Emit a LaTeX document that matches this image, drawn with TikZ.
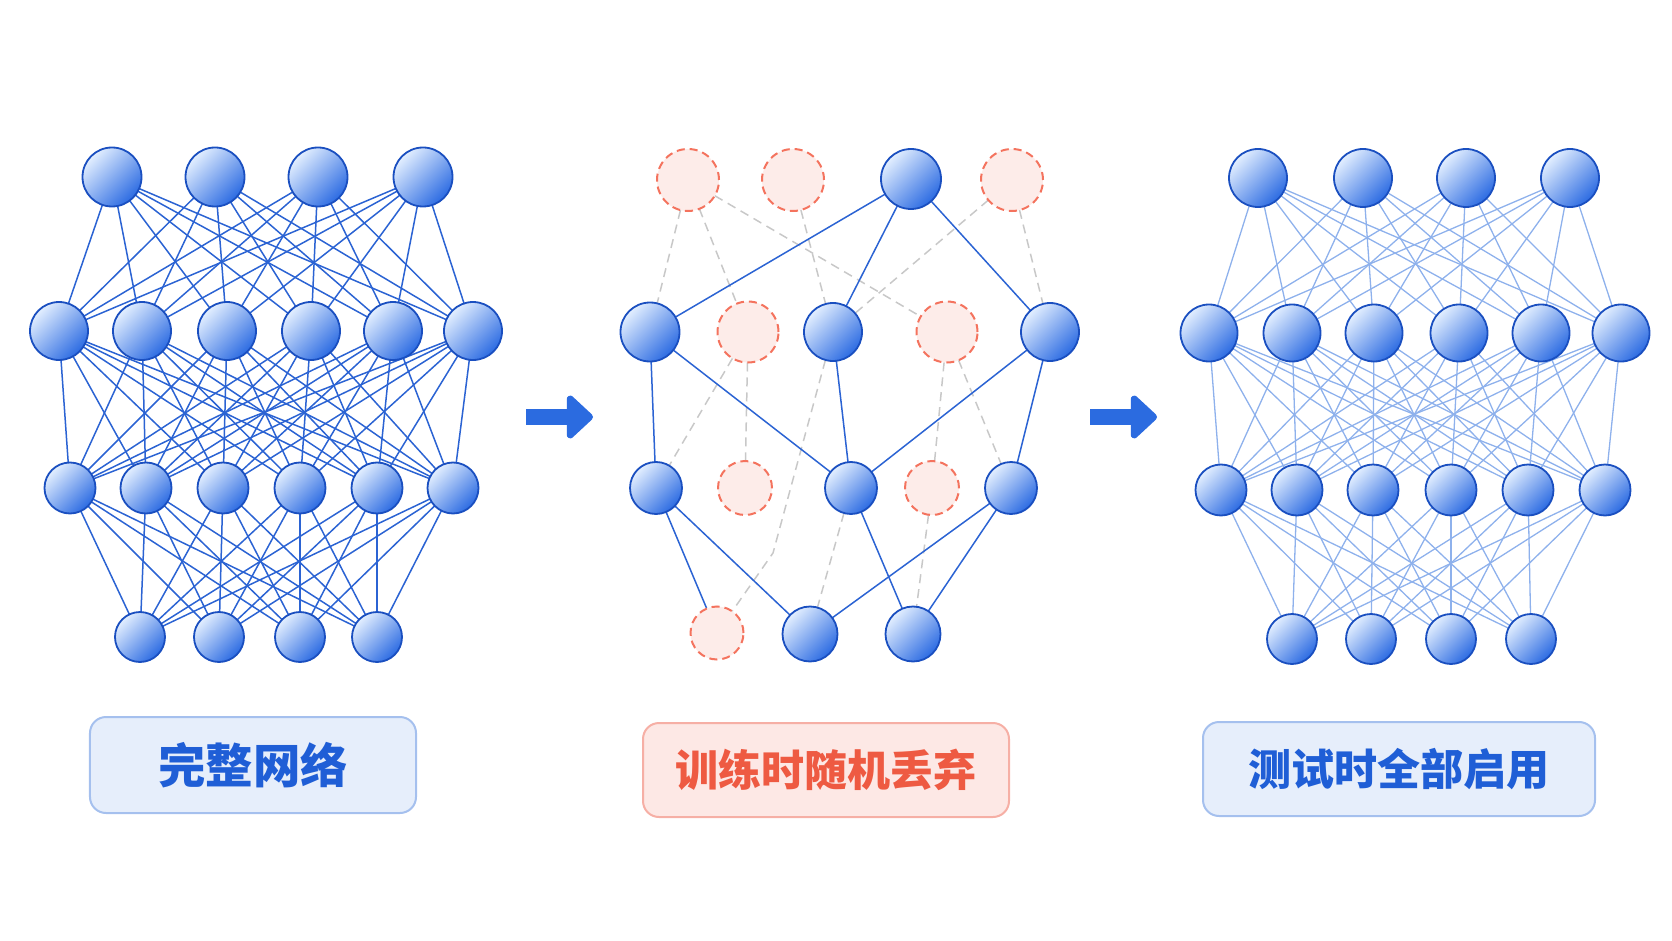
\documentclass[tikz,border=0pt]{standalone}
\usepackage{fontspec}
\newfontfamily\cjk{Noto Sans CJK SC}
\usetikzlibrary{arrows.meta,backgrounds}

\definecolor{nodeblue}{HTML}{2C6BE2}
\definecolor{nodelight}{HTML}{E3EFFF}
\definecolor{nodeedge}{HTML}{1A4FC0}
\definecolor{linkblue}{HTML}{2B63D3}
\definecolor{linklight}{HTML}{8EB1EC}
\definecolor{dropred}{HTML}{F4735E}
\definecolor{dropfill}{HTML}{FDECE9}
\definecolor{dropgray}{HTML}{C8C8C8}
\definecolor{boxblue}{HTML}{E6EEFB}
\definecolor{boxblueline}{HTML}{A5C0EE}
\definecolor{textblue}{HTML}{1F5ED6}
\definecolor{boxred}{HTML}{FDE8E5}
\definecolor{boxredline}{HTML}{F6AFA5}
\definecolor{textred}{HTML}{EE5A42}
\definecolor{arrowblue}{HTML}{2B6BE0}

\tikzset{
  neuron/.style={circle, draw=nodeedge, line width=0.36mm, inner sep=0, outer sep=0,
    top color=nodelight, bottom color=nodeblue, shading angle=45},
  dropped/.style={circle, draw=dropred, fill=dropfill, line width=0.4mm,
    dash pattern=on 1.6mm off 1mm, inner sep=0, outer sep=0},
  link/.style={linkblue, line width=0.3mm},
  faintlink/.style={linklight, line width=0.26mm},
  droplink/.style={dropgray, line width=0.3mm, dash pattern=on 1.8mm off 1.2mm},
  labelbox/.style={rounded corners=3.2mm, line width=0.4mm, inner sep=0,
    font=\cjk\bfseries\fontsize{24.5}{29}\selectfont},
  blockarrow/.style={arrowblue, line width=3.2mm, -{Triangle[width=10mm, length=5.6mm, round]}},
}

\begin{document}
\begin{tikzpicture}[x=0.2mm, y=-0.2mm]
    \useasboundingbox (0,0) rectangle (1672,941);

    % full network
    \foreach \x [count=\i] in {112,215,318,423}
        \node[neuron, minimum size=11.8mm] (f1\i) at (\x,177) {};
    \foreach \x [count=\i] in {59,142,227,311,393,473}
        \node[neuron, minimum size=11.6mm] (f2\i) at (\x,331) {};
    \foreach \x [count=\i] in {70,146,223,300,377,453}
        \node[neuron, minimum size=10.2mm] (f3\i) at (\x,488) {};
    \foreach \x [count=\i] in {140,219,300,377}
        \node[neuron, minimum size=10mm] (f4\i) at (\x,637) {};

    % training with dropout
    \node[dropped, minimum size=12.4mm] (d11) at (688,180) {};
    \node[dropped, minimum size=12.4mm] (d12) at (793,180) {};
    \node[neuron, minimum size=12mm] (d13) at (911,179) {};
    \node[dropped, minimum size=12.4mm] (d14) at (1012,180) {};
    \node[neuron, minimum size=11.8mm] (d21) at (650,332) {};
    \node[dropped, minimum size=12.2mm] (d22) at (748,332) {};
    \node[neuron, minimum size=11.6mm] (d23) at (833,332) {};
    \node[dropped, minimum size=12.2mm] (d24) at (947,332) {};
    \node[neuron, minimum size=11.6mm] (d25) at (1050,332) {};
    \node[neuron, minimum size=10.4mm] (d31) at (656,488) {};
    \node[dropped, minimum size=10.8mm] (d32) at (745,488) {};
    \node[neuron, minimum size=10.4mm] (d33) at (851,488) {};
    \node[dropped, minimum size=10.8mm] (d34) at (932,488) {};
    \node[neuron, minimum size=10.4mm] (d35) at (1011,488) {};
    \node[dropped, minimum size=10.6mm] (d41) at (717,633) {};
    \node[neuron, minimum size=11mm] (d42) at (810,634) {};
    \node[neuron, minimum size=11mm] (d43) at (913,634) {};
    \coordinate (dbend) at (773,553);

    % test network
    \foreach \x [count=\i] in {1258,1363,1466,1570}
        \node[neuron, minimum size=11.6mm] (t1\i) at (\x,178) {};
    \foreach \x [count=\i] in {1209,1292,1374,1459,1541,1621}
        \node[neuron, minimum size=11.4mm] (t2\i) at (\x,333) {};
    \foreach \x [count=\i] in {1221,1297,1373,1451,1528,1605}
        \node[neuron, minimum size=10.2mm] (t3\i) at (\x,490) {};
    \foreach \x [count=\i] in {1292,1371,1451,1531}
        \node[neuron, minimum size=10mm] (t4\i) at (\x,639) {};

    \begin{scope}[on background layer]
        \foreach \i in {1,...,4} \foreach \j in {1,...,6} {
            \draw[link] (f1\i) -- (f2\j);
            \draw[faintlink] (t1\i) -- (t2\j);
        }
        \foreach \i in {1,...,6} \foreach \j in {1,...,6} {
            \draw[link] (f2\i) -- (f3\j);
            \draw[faintlink] (t2\i) -- (t3\j);
        }
        \foreach \i in {1,...,6} \foreach \j in {1,...,4} {
            \draw[link] (f3\i) -- (f4\j);
            \draw[faintlink] (t3\i) -- (t4\j);
        }

        \draw[droplink] (d11) -- (d21);
        \draw[droplink] (d11) -- (d22);
        \draw[droplink] (d11) -- (d24);
        \draw[droplink] (d12) -- (d23);
        \draw[droplink] (d14) -- (d23);
        \draw[droplink] (d14) -- (d25);
        \draw[droplink] (d22) -- (d31);
        \draw[droplink] (d22) -- (d32);
        \draw[droplink] (d23) -- (dbend) -- (d41);
        \draw[droplink] (d24) -- (d34);
        \draw[droplink] (d24) -- (d35);
        \draw[droplink] (d33) -- (d42);
        \draw[droplink] (d34) -- (d43);

        \draw[link] (d13) -- (d21);
        \draw[link] (d13) -- (d23);
        \draw[link] (d13) -- (d25);
        \draw[link] (d21) -- (d31);
        \draw[link] (d21) -- (d33);
        \draw[link] (d23) -- (d33);
        \draw[link] (d25) -- (d33);
        \draw[link] (d25) -- (d35);
        \draw[link] (d31) -- (d41);
        \draw[link] (d31) -- (d42);
        \draw[link] (d33) -- (d43);
        \draw[link] (d35) -- (d42);
        \draw[link] (d35) -- (d43);
    \end{scope}

    \coordinate (arr1s) at (526,417);
    \coordinate (arr1e) at (593,417);
    \coordinate (arr2s) at (1090,417);
    \coordinate (arr2e) at (1157,417);
    \draw[blockarrow] (arr1s) -- (arr1e);
    \draw[blockarrow] (arr2s) -- (arr2e);

    \node[labelbox, draw=boxblueline, fill=boxblue, text=textblue, minimum width=65.2mm,
        minimum height=19.2mm, font=\cjk\bfseries\fontsize{27}{32}\selectfont] (fulllabel) at (253,765) {完整网络};
    \node[labelbox, draw=boxredline, fill=boxred, text=textred, minimum width=73.2mm,
        minimum height=18.8mm] (trainlabel) at (826,770) {训练时随机丢弃};
    \node[labelbox, draw=boxblueline, fill=boxblue, text=textblue, minimum width=78.4mm,
        minimum height=18.8mm] (testlabel) at (1399,769) {测试时全部启用};
\end{tikzpicture}
\end{document}
